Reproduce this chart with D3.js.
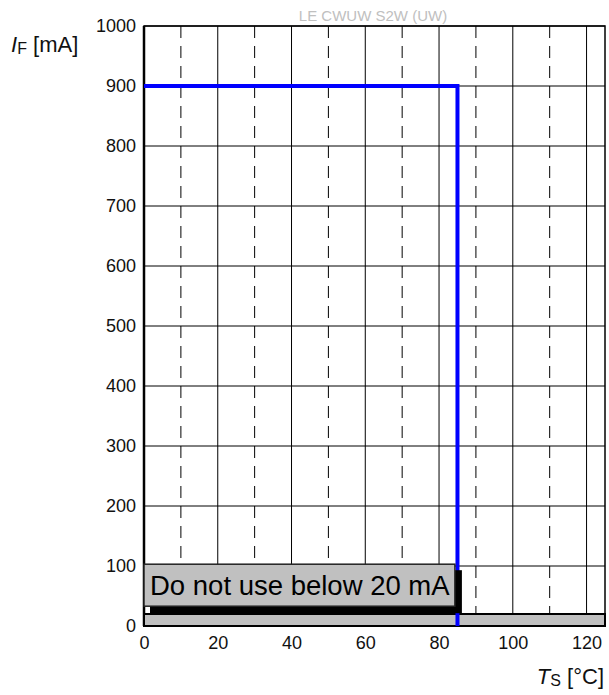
<!DOCTYPE html>
<html>
<head>
<meta charset="utf-8">
<script src="https://cdn.jsdelivr.net/npm/d3@7"></script>
<style>
  body { margin: 0; background: #fff; }
  svg { font-family: Arial, "Liberation Sans", sans-serif; }
</style>
</head>
<body>
<svg id="chart" width="609" height="695"></svg>
<script>
  // values
  var title = "LE CWUW S2W (UW)";
  var temps = [0, 85, 85];          // T_S [°C]
  var currents = [900, 900, 0];     // I_F [mA]
  var xTicks = [0, 20, 40, 60, 80, 100, 120];
  var xMinor = [10, 30, 50, 70, 90, 110];
  var yTicks = [0, 100, 200, 300, 400, 500, 600, 700, 800, 900, 1000];
  var minCurrent = 20;
  var note = "Do not use below 20 mA";

  (function () {
  var svg = d3.select("#chart");
  var pLeft = 144, pRight = 605, pTop = 26, pBottom = 626;

  var x = d3.scaleLinear().domain([0, 125]).range([pLeft, pRight]);
  var y = d3.scaleLinear().domain([0, 1000]).range([pBottom, pTop]);

  // dashed minor verticals
  svg.selectAll("line.minor")
    .data(xMinor)
    .enter().append("line")
    .attr("class", "minor")
    .attr("x1", function(d) { return x(d); })
    .attr("x2", function(d) { return x(d); })
    .attr("y1", pTop).attr("y2", pBottom)
    .attr("stroke", "#000").attr("stroke-width", 1)
    .attr("stroke-dasharray", "12,8");

  // solid verticals
  svg.selectAll("line.vgrid")
    .data(xTicks.slice(1))
    .enter().append("line")
    .attr("class", "vgrid")
    .attr("x1", function(d) { return x(d); })
    .attr("x2", function(d) { return x(d); })
    .attr("y1", pTop).attr("y2", pBottom)
    .attr("stroke", "#000").attr("stroke-width", 1);

  // horizontal grid
  svg.selectAll("line.hgrid")
    .data(yTicks.slice(1))
    .enter().append("line")
    .attr("class", "hgrid")
    .attr("x1", pLeft).attr("x2", pRight)
    .attr("y1", function(d) { return y(d); })
    .attr("y2", function(d) { return y(d); })
    .attr("stroke", "#000").attr("stroke-width", 1);

  // frame
  svg.append("rect")
    .attr("x", pLeft).attr("y", pTop)
    .attr("width", pRight - pLeft).attr("height", pBottom - pTop)
    .attr("fill", "none").attr("stroke", "#000").attr("stroke-width", 1.5);
  svg.append("line")
    .attr("x1", pLeft).attr("x2", pLeft).attr("y1", pTop).attr("y2", pBottom)
    .attr("stroke", "#000").attr("stroke-width", 2.5);

  // tick labels via d3 axes
  var xAxis = svg.append("g")
    .attr("transform", "translate(0," + pBottom + ")")
    .call(d3.axisBottom(x).tickValues(xTicks).tickFormat(d3.format("d")).tickSize(0).tickPadding(10));
  var yAxis = svg.append("g")
    .attr("transform", "translate(" + pLeft + ",0)")
    .call(d3.axisLeft(y).tickValues(yTicks).tickFormat(d3.format("d")).tickSize(0).tickPadding(8));
  [xAxis, yAxis].forEach(function(g) {
    g.select(".domain").remove();
    g.selectAll("text")
      .attr("font-family", "Arial, 'Liberation Sans', sans-serif")
      .attr("font-size", 18).attr("fill", "#111");
  });

  // forbidden band below 20 mA
  svg.append("rect")
    .attr("x", x(0)).attr("y", y(minCurrent))
    .attr("width", x(125) - x(0)).attr("height", y(0) - y(minCurrent))
    .attr("fill", "#c0c0c0").attr("stroke", "#000").attr("stroke-width", 2);

  // derating curve
  var line = d3.line()
    .x(function(d) { return x(d[0]); })
    .y(function(d) { return y(d[1]); });
  svg.append("path")
    .datum(d3.zip(temps, currents))
    .attr("d", line)
    .attr("fill", "none")
    .attr("stroke", "#0000ff")
    .attr("stroke-width", 4);

  // note box with shadow
  var boxX = x(0), boxY = y(103), boxW = x(84.3) - x(0), boxH = y(33) - y(103);
  svg.append("rect")
    .attr("x", boxX + 6).attr("y", boxY + 6)
    .attr("width", boxW + 1).attr("height", boxH + 1)
    .attr("fill", "#000");
  svg.append("rect")
    .attr("x", boxX).attr("y", boxY)
    .attr("width", boxW).attr("height", boxH)
    .attr("fill", "#c0c0c0").attr("stroke", "#222").attr("stroke-width", 1.5);
  svg.append("text")
    .attr("x", boxX + 6).attr("y", boxY + 31)
    .attr("font-size", 27.5).attr("fill", "#000")
    .text(note);

  // title
  svg.append("text")
    .attr("x", 373).attr("y", 21)
    .attr("text-anchor", "middle")
    .attr("font-size", 15).attr("fill", "#c0c0c0")
    .text(title);

  // y label
  var yl = svg.append("text").attr("x", 11).attr("y", 52).attr("font-size", 22).attr("fill", "#111");
  yl.append("tspan").attr("font-style", "italic").text("I");
  yl.append("tspan").attr("font-size", 16).attr("dy", 2).text("F");
  yl.append("tspan").attr("dy", -2).text(" [mA]");

  // x label
  var xl = svg.append("text").attr("x", 604).attr("y", 684)
    .attr("text-anchor", "end").attr("font-size", 22).attr("fill", "#111");
  xl.append("tspan").attr("font-style", "italic").text("T");
  xl.append("tspan").attr("font-size", 16).attr("dy", 2).text("S");
  xl.append("tspan").attr("dy", -2).text(" [°C]");
  })();
</script>
</body>
</html>
